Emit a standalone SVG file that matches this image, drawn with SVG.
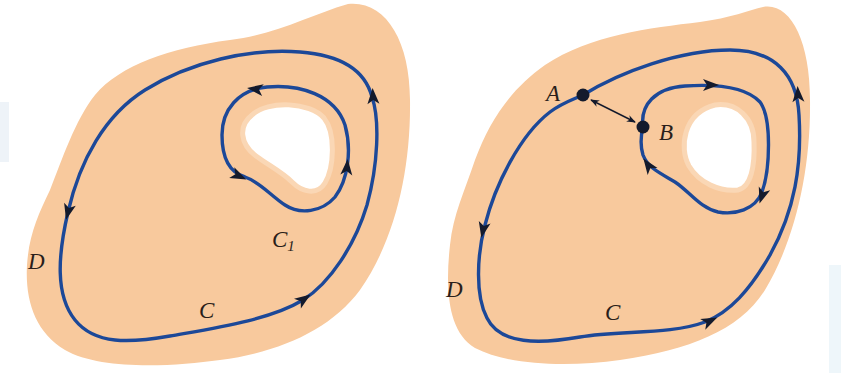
<svg xmlns="http://www.w3.org/2000/svg" width="841" height="373" viewBox="0 0 841 373">
<style>
.blob{fill:#f8c99d;stroke:none}
.halo{fill:#fff;stroke:#fad7b5;stroke-width:5;stroke-linejoin:round}
.curve{fill:none;stroke:#1c4898;stroke-width:3.4;stroke-linejoin:round}
.lbl{font-family:"Liberation Serif",serif;font-style:italic;font-size:23px;fill:#2a1e1a}
.sub{font-family:"Liberation Serif",serif;font-size:15px;fill:#2a1e1a}
.ah{fill:#141a2c}
.dot{fill:#141a2c}
</style>
<defs>
<path id="head" d="M8,0 L-8,-6 L-4,0 L-8,6 Z"/>
<marker id="sm" viewBox="0 0 10 10" refX="9" refY="5" markerWidth="9" markerHeight="9" markerUnits="userSpaceOnUse" orient="auto-start-reverse">
<path d="M0,1 L10,5 L0,9 L3,5 Z" fill="#141a2c"/>
</marker>
</defs>
<rect width="841" height="373" fill="#fff"/>
<rect x="0" y="102" width="9" height="60" fill="#eef3f8"/>
<rect x="829" y="265" width="12" height="108" fill="#eef6fa"/>

<g id="left-region">
<path class="blob" d="M348,4 C385,0 410,40 410,100 C411,170 395,240 360,290 C330,330 280,352 220,360 C170,367 100,370 65,350 C35,332 25,300 27,265 C29,235 38,215 50,190 C62,160 75,120 95,95 C120,65 170,48 230,40 C275,35 310,15 348,4 Z"/>
<path class="halo" d="M252,115 C268,100 310,102 324,118 C336,133 334,168 325,183 C317,196 302,192 292,182 C282,172 268,165 256,156 C240,144 238,126 252,115 Z"/>
</g>
<g id="right-region">
<path class="blob" d="M763,7 C790,2 810,40 810,100 C811,170 795,240 765,290 C740,330 690,350 620,360 C570,367 510,366 475,348 C448,332 445,290 450,245 C453,215 465,190 475,160 C490,120 510,90 545,65 C590,35 650,28 700,22 C730,18 750,10 763,7 Z"/>
<path class="halo" d="M715,105 C737,102 754,118 754,142 C755,166 751,187 738,190 C720,192 699,183 689,166 C679,148 683,113 715,105 Z"/>
</g>

<g id="connectors">
<path id="left-C" class="curve" d="M303,300 C330,283 355,245 367,205 C378,165 380,120 372,97 C365,70 340,55 300,52 C250,48 190,62 145,90 C105,115 80,160 68,212 C58,255 55,295 75,320 C95,345 130,343 170,336 C215,328 270,320 303,300 Z"/>
<path id="left-C1" class="curve" d="M267,87 C300,84 335,95 345,125 C352,150 348,180 335,197 C322,212 300,215 285,205 C270,195 260,182 245,177 C228,172 222,155 222,135 C222,110 238,90 267,87 Z"/>
<path id="right-C" class="curve" d="M583,95 C620,72 680,50 730,50 C775,50 797,75 799,115 C802,165 795,210 770,255 C750,290 730,312 705,322 C670,335 620,330 580,337 C540,344 500,345 487,318 C475,295 477,255 485,225 C495,185 520,135 550,112 C562,103 572,100 583,95 Z"/>
<path id="right-inner" class="curve" d="M643,127 C640,105 655,88 685,86 C715,84 745,86 760,102 C772,118 770,170 762,192 C755,210 735,215 718,212 C700,208 690,192 675,182 C660,173 648,168 643,155 C640,145 641,135 643,127 Z"/>
<line x1="591" y1="100" x2="635" y2="122" stroke="#141a2c" stroke-width="1.4" marker-start="url(#sm)" marker-end="url(#sm)"/>
<use href="#head" class="ah" transform="translate(373,96) rotate(-93)"/>
<use href="#head" class="ah" transform="translate(68,212) rotate(104)"/>
<use href="#head" class="ah" transform="translate(304,299) rotate(-35)"/>
<use href="#head" class="ah" transform="translate(255,89) rotate(188)"/>
<use href="#head" class="ah" transform="translate(347,167) rotate(-85)"/>
<use href="#head" class="ah" transform="translate(239,176) rotate(25)"/>
<use href="#head" class="ah" transform="translate(798,94) rotate(-93)"/>
<use href="#head" class="ah" transform="translate(483,230) rotate(102)"/>
<use href="#head" class="ah" transform="translate(710,321) rotate(-25)"/>
<use href="#head" class="ah" transform="translate(711,85) rotate(0)"/>
<use href="#head" class="ah" transform="translate(762,196) rotate(108)"/>
<use href="#head" class="ah" transform="translate(648,165) rotate(-125)"/>
</g>

<g id="point-A">
<circle class="dot" cx="583" cy="95" r="6.5"/>
<text class="lbl" x="546" y="101">A</text>
</g>
<g id="point-B">
<circle class="dot" cx="643" cy="127" r="6.5"/>
<text class="lbl" x="659" y="140">B</text>
</g>
<g id="labels">
<text class="lbl" x="28" y="269">D</text>
<text class="lbl" x="199" y="318">C</text>
<text class="lbl" x="272" y="247">C<tspan class="sub" dy="4">1</tspan></text>
<text class="lbl" x="446" y="297">D</text>
<text class="lbl" x="605" y="320">C</text>
</g>
</svg>
